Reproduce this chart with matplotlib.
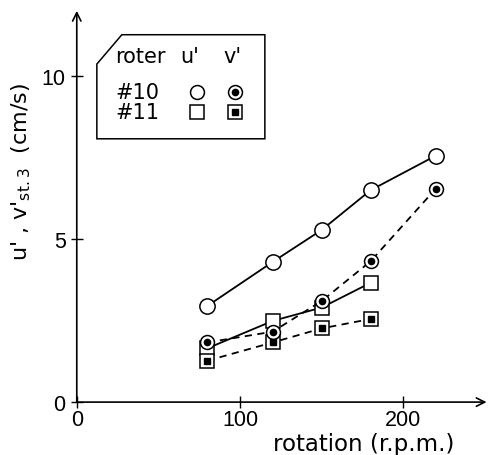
import matplotlib
matplotlib.use("Agg")
import matplotlib.pyplot as plt
from matplotlib.patches import Polygon

plt.rcParams.update({
    "font.family": ["DejaVu Sans"],
    "font.size": 15,
    "mathtext.fontset": "dejavusans",
})

# rotor #10
rpm_10 = [80, 120, 150, 180, 220]
u_10 = [2.95, 4.3, 5.28, 6.5, 7.56]
v_10 = [1.83, 2.16, 3.1, 4.32, 6.55]
# rotor #11
rpm_11 = [80, 120, 150, 180]
u_11 = [1.65, 2.49, 2.9, 3.66]
v_11 = [1.27, 1.83, 2.26, 2.55]

INK = "black"
MS = 10

fig = plt.figure(figsize=(4.89, 4.56), dpi=100)
ax = fig.add_axes([0.157, 0.116, 0.838, 0.858])
ax.set_xlim(0, 251)
ax.set_ylim(0, 12)
for s in ax.spines.values():
    s.set_visible(False)

# axes drawn as arrows
ax.annotate("", xy=(1, 0), xytext=(0, 0), xycoords="axes fraction",
            arrowprops=dict(arrowstyle="->", lw=1.2, color=INK, shrinkA=0, shrinkB=0))
ax.annotate("", xy=(0, 1), xytext=(0, 0), xycoords="axes fraction",
            arrowprops=dict(arrowstyle="->", lw=1.2, color=INK, shrinkA=0, shrinkB=0))

ax.set_xticks([0, 100, 200])
ax.set_yticks([0, 5, 10])
ax.tick_params(direction="inout", length=8, width=1, pad=4)
ax.tick_params(axis="x", pad=1)
for lab in ax.get_xticklabels() + ax.get_yticklabels():
    lab.set_fontfamily("Liberation Sans")
    lab.set_fontsize(15.5)

def ring_dot(x, y, ls):
    ax.plot(x, y, ls=ls, color=INK, lw=1.3, marker="o", ms=MS,
            mfc="white", mec=INK, mew=1.1, zorder=3)
    ax.plot(x, y, ls="none", marker="o", ms=4.5, mfc=INK, mec=INK, zorder=4)

def box_dot(x, y, ls):
    ax.plot(x, y, ls=ls, color=INK, lw=1.3, marker="s", ms=MS,
            mfc="white", mec=INK, mew=1.1, zorder=3)
    ax.plot(x, y, ls="none", marker="s", ms=4.5, mfc=INK, mec=INK, zorder=4)

ax.plot(rpm_11, u_11, "-", color=INK, lw=1.3, marker="s", ms=MS,
        mfc="white", mec=INK, mew=1.1, zorder=3)
box_dot(rpm_11, v_11, (0, (4, 3)))
ax.plot(rpm_10, u_10, "-", color=INK, lw=1.3, marker="o", ms=MS + 1,
        mfc="white", mec=INK, mew=1.1, zorder=3)
ring_dot(rpm_10, v_10, (0, (4, 3)))

ax.set_ylabel(r"u' , v'$_{\rm st.3}$  (cm/s)", fontsize=16)
ax.yaxis.set_label_coords(-0.107, 0.59)
ax.set_xlabel("rotation (r.p.m.)", fontsize=16.5)
ax.xaxis.set_label_coords(0.70, -0.076)

# legend box with a clipped corner
tr = ax.transAxes
box = Polygon([(0.049, 0.864), (0.110, 0.939), (0.459, 0.939),
               (0.459, 0.673), (0.049, 0.673)], closed=True,
              fill=False, ec=INK, lw=1.1, transform=tr, clip_on=False)
ax.add_patch(box)
ax.text(0.093, 0.885, "roter", transform=tr, va="center", ha="left")
ax.text(0.276, 0.885, "u'", transform=tr, va="center", ha="center")
ax.text(0.380, 0.885, "v'", transform=tr, va="center", ha="center")
ax.text(0.093, 0.793, "#10", transform=tr, va="center", ha="left")
ax.text(0.093, 0.742, "#11", transform=tr, va="center", ha="left")
ax.plot([0.293], [0.793], "o", ms=MS, mfc="white", mec=INK, mew=1.1, transform=tr)
ax.plot([0.385], [0.793], "o", ms=MS, mfc="white", mec=INK, mew=1.1, transform=tr)
ax.plot([0.385], [0.793], "o", ms=4.5, mfc=INK, mec=INK, transform=tr)
ax.plot([0.293], [0.742], "s", ms=MS, mfc="white", mec=INK, mew=1.1, transform=tr)
ax.plot([0.385], [0.742], "s", ms=MS, mfc="white", mec=INK, mew=1.1, transform=tr)
ax.plot([0.385], [0.742], "s", ms=4.5, mfc=INK, mec=INK, transform=tr)

fig.savefig("out.png", dpi=100)
